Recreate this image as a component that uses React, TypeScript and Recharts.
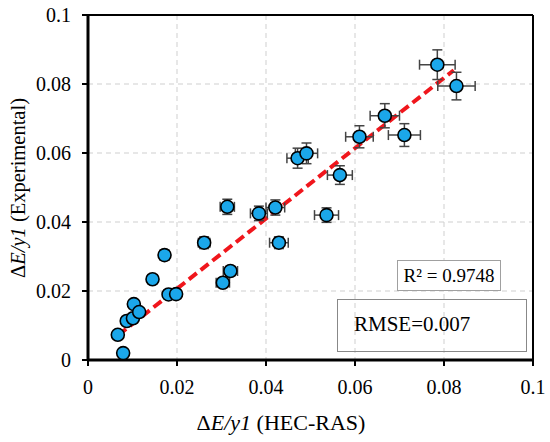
import React from 'react';
import {
  ScatterChart,
  Scatter,
  XAxis,
  YAxis,
  CartesianGrid,
  ErrorBar,
  ReferenceLine
} from 'recharts';

// values
const hecRas = [
  0.0067, 0.0079, 0.0087, 0.0101, 0.0103, 0.0115, 0.0145, 0.0172, 0.0181, 0.0198,
  0.0261, 0.0303, 0.032, 0.0313, 0.0384, 0.0421, 0.0429, 0.0471, 0.0491, 0.0536,
  0.0566, 0.061, 0.0667, 0.0711, 0.0785, 0.0828
];
const experimental = [
  0.0073, 0.002, 0.0113, 0.0121, 0.0162, 0.0139, 0.0234, 0.0304, 0.019, 0.0191,
  0.034, 0.0224, 0.0258, 0.0444, 0.0425, 0.0442, 0.034, 0.0585, 0.0599, 0.042,
  0.0536, 0.0647, 0.0708, 0.0652, 0.0856, 0.0794
];
const hecRasErr = [
  0.0003, 0.0004, 0.0004, 0.0005, 0.0005, 0.0006, 0.0007, 0.0009, 0.0009, 0.001,
  0.0013, 0.0015, 0.0016, 0.0016, 0.0019, 0.0021, 0.0021, 0.0024, 0.0025, 0.0027,
  0.0028, 0.0031, 0.0033, 0.0036, 0.004, 0.0042
];
const experimentalErr = [
  0.0004, 0.0001, 0.0006, 0.0006, 0.0008, 0.0007, 0.0012, 0.0015, 0.001, 0.001,
  0.0017, 0.0011, 0.0013, 0.0022, 0.0021, 0.0022, 0.0017, 0.0029, 0.003, 0.0021,
  0.0027, 0.0032, 0.0035, 0.0033, 0.0043, 0.004
];
const trendStart = { x: 0.0068, y: 0.0072 };
const trendEnd = { x: 0.0822, y: 0.0840 };
const axisTicks = [0, 0.02, 0.04, 0.06, 0.08, 0.1];
const tickLabels = ['0', '0.02', '0.04', '0.06', '0.08', '0.1'];
const r2Label = 'R² = 0.9748';
const rmseLabel = 'RMSE=0.007';

const points = hecRas.map((x, i) => ({
  x,
  y: experimental[i],
  ex: hecRasErr[i],
  ey: experimentalErr[i]
}));

const serif = 'Liberation Serif, DejaVu Serif, serif';
const fmt = (v: number) => tickLabels[axisTicks.indexOf(v)] ?? String(v);

const Marker = (props: any) => (
  <circle cx={props.cx} cy={props.cy} r={6.5} fill="#1ba7ea" stroke="#000" strokeWidth={1.6} />
);

export default function App() {
  return (
    <div style={{ position: 'absolute', left: 0, top: 0, width: 550, height: 442, background: '#fff', fontFamily: serif }}>
      <ScatterChart width={550} height={442} margin={{ top: 15, right: 17, left: 28, bottom: 52 }} style={{ fontFamily: serif }}>
        <CartesianGrid strokeDasharray="5 4" stroke="#cfcfcf" strokeWidth={1} />
        <XAxis
          type="number"
          dataKey="x"
          domain={[0, 0.1]}
          ticks={axisTicks}
          tickFormatter={fmt}
          height={30}
          axisLine={{ stroke: '#000', strokeWidth: 3 }}
          tickLine={{ stroke: '#000', strokeWidth: 2 }}
          tickSize={6}
          tickMargin={14}
          tick={{ fill: '#000', fontSize: 20, fontFamily: serif }}
          allowDataOverflow
        />
        <YAxis
          type="number"
          dataKey="y"
          domain={[0, 0.1]}
          ticks={axisTicks}
          tickFormatter={fmt}
          width={60}
          axisLine={{ stroke: '#000', strokeWidth: 3 }}
          tickLine={{ stroke: '#000', strokeWidth: 2 }}
          tickSize={6}
          tickMargin={11}
          tick={{ fill: '#000', fontSize: 20, fontFamily: serif }}
          allowDataOverflow
        />
        <ReferenceLine y={0.1} stroke="#000" strokeWidth={2} />
        <ReferenceLine x={0.1} stroke="#000" strokeWidth={2} />
        <ReferenceLine
          segment={[trendStart, trendEnd]}
          stroke="#f0161c"
          strokeWidth={4}
          strokeDasharray="10 5"
        />
        <Scatter data={points} shape={Marker} isAnimationActive={false}>
          <ErrorBar dataKey="ex" direction="x" width={5} stroke="#444" strokeWidth={1.5} isAnimationActive={false} />
          <ErrorBar dataKey="ey" direction="y" width={5} stroke="#444" strokeWidth={1.5} isAnimationActive={false} />
        </Scatter>
      </ScatterChart>

      <div style={{
        position: 'absolute', left: 397, top: 260, width: 104, height: 31, boxSizing: 'border-box',
        border: '1px solid #a0a0a0', background: '#fff', fontSize: 19, lineHeight: '29px', textAlign: 'center'
      }}>
        {r2Label}
      </div>
      <div style={{
        position: 'absolute', left: 337, top: 299, width: 190, height: 53, boxSizing: 'border-box',
        border: '1px solid #888', fontSize: 21, lineHeight: '49px', paddingLeft: 16
      }}>
        {rmseLabel}
      </div>

      <div style={{
        position: 'absolute', left: 131, top: 409, width: 300, height: 28, lineHeight: '28px',
        textAlign: 'center', fontSize: 22
      }}>
        Δ<i>E/y1</i> (HEC-RAS)
      </div>
      <div style={{
        position: 'absolute', left: 18 - 150, top: 188 - 14, width: 300, height: 28, lineHeight: '28px',
        textAlign: 'center', fontSize: 20.5, transform: 'rotate(-90deg)'
      }}>
        Δ<i>E/y1</i> (Experimental)
      </div>
    </div>
  );
}
